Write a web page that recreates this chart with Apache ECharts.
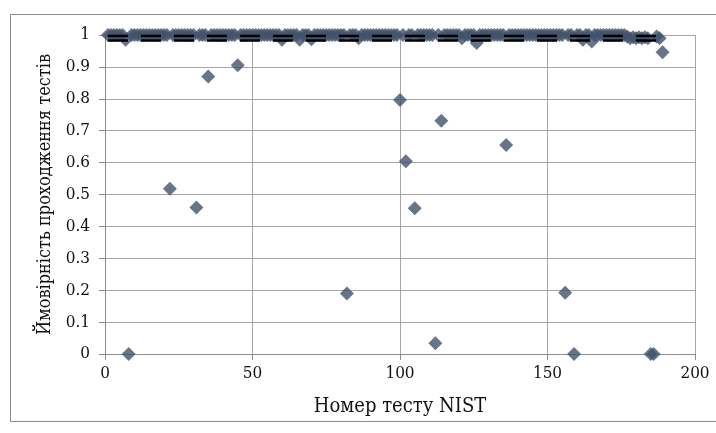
<!DOCTYPE html>
<html>
<head>
<meta charset="utf-8">
<script src="https://cdn.jsdelivr.net/npm/echarts@6/dist/echarts.min.js"></script>
<style>
html,body{margin:0;padding:0;background:#fff;}
#chart{width:716px;height:433px;}
</style>
</head>
<body>
<div id="chart"></div>
<script>
// Test numbers 1..189 and pass probabilities
var passRates = [
  1,1,1,1,1,1,0.985,0,1,1,
  1,1,1,1,1,1,1,1,1,1,
  1,0.518,1,1,1,1,1,1,1,1,
  0.459,1,1,1,0.87,1,1,1,1,1,
  1,1,1,1,0.905,1,1,1,1,1,
  1,1,1,1,1,1,1,1,1,0.985,
  1,1,1,1,1,0.985,1,1,1,0.987,
  1,1,1,1,1,1,1,1,1,1,
  1,0.19,1,1,1,0.99,1,1,1,1,
  1,1,1,1,1,1,1,1,1,0.796,
  1,0.604,1,1,0.457,1,1,1,1,1,
  1,0.034,1,0.731,1,1,1,1,1,1,
  0.99,1,1,1,1,0.975,1,1,1,1,
  1,1,1,1,1,0.655,1,1,1,1,
  1,1,1,1,1,1,1,1,1,1,
  1,1,1,1,1,0.192,1,1,0,1,
  1,0.985,1,1,0.98,1,1,1,1,1,
  1,1,1,1,1,1,0.995,0.99,0.993,0.99,
  0.993,0.99,0.993,0.99,0,0,0.995,0.99,0.946
];
var testNumbers = passRates.map(function(_, i){ return i + 1; });
// Confidence interval bounds (dashed lines)
var boundX = [1, 188];
var upperBound = [0.997, 0.997];
var lowerBound = [0.983, 0.983];
var xTicks = [0, 50, 100, 150, 200];

var chart = echarts.init(document.getElementById('chart'), null, {renderer:'canvas'});
var font = '"DejaVu Serif Condensed", "DejaVu Serif"';
var option = {
  animation: false,
  backgroundColor: '#fff',
  graphic: [{
    type: 'rect', silent: true, z: -1,
    shape: {x: 10.5, y: 14.5, width: 720, height: 407},
    style: {fill: 'none', stroke: '#8a8a8a', lineWidth: 1}
  }],
  grid: {left: 105, right: 21, top: 35, bottom: 79, containLabel: false},
  xAxis: {
    type: 'value', min: 0, max: 200, interval: 50,
    name: 'Номер тесту NIST', nameLocation: 'middle', nameGap: 43,
    nameTextStyle: {fontFamily: font, fontSize: 20, color: '#111'},
    axisLine: {show: true, onZero: false, lineStyle: {color: '#8c8c8c', width: 1}},
    axisTick: {show: true, inside: false, length: 6, lineStyle: {color: '#8c8c8c'}},
    axisLabel: {fontFamily: font, fontSize: 17, color: '#111', margin: 11,
      formatter: function(v){ return xTicks.indexOf(v) >= 0 ? String(v) : ''; }},
    splitLine: {show: true, lineStyle: {color: '#a6a6a6', width: 1}}
  },
  yAxis: {
    type: 'value', min: 0, max: 1, interval: 0.1,
    name: 'Ймовірність проходження тестів', nameLocation: 'middle', nameGap: 49,
    nameTextStyle: {fontFamily: font, fontSize: 18, color: '#111'},
    axisLine: {show: true, lineStyle: {color: '#8c8c8c', width: 1}},
    axisTick: {show: true, inside: false, length: 6, lineStyle: {color: '#8c8c8c'}},
    axisLabel: {fontFamily: font, fontSize: 17, color: '#111', margin: 15,
      formatter: function(v){
        var r = Math.round(v * 10) / 10;
        return String(r);
      }},
    splitLine: {show: true, lineStyle: {color: '#a6a6a6', width: 1}}
  },
  series: [
    {
      type: 'scatter', symbol: 'diamond', symbolSize: 14, z: 2,
      itemStyle: {color: '#42526b'},
      data: testNumbers.map(function(x, i){ return [x, passRates[i]]; })
    },
    {
      type: 'line', symbol: 'none', z: 3,
      lineStyle: {color: '#000', width: 2.5, type: [20, 13]},
      data: boundX.map(function(x, i){ return [x, upperBound[i]]; })
    },
    {
      type: 'line', symbol: 'none', z: 3,
      lineStyle: {color: '#000', width: 2.5, type: [20, 13]},
      data: boundX.map(function(x, i){ return [x, lowerBound[i]]; })
    }
  ]
};
chart.setOption(option);
</script>
</body>
</html>
